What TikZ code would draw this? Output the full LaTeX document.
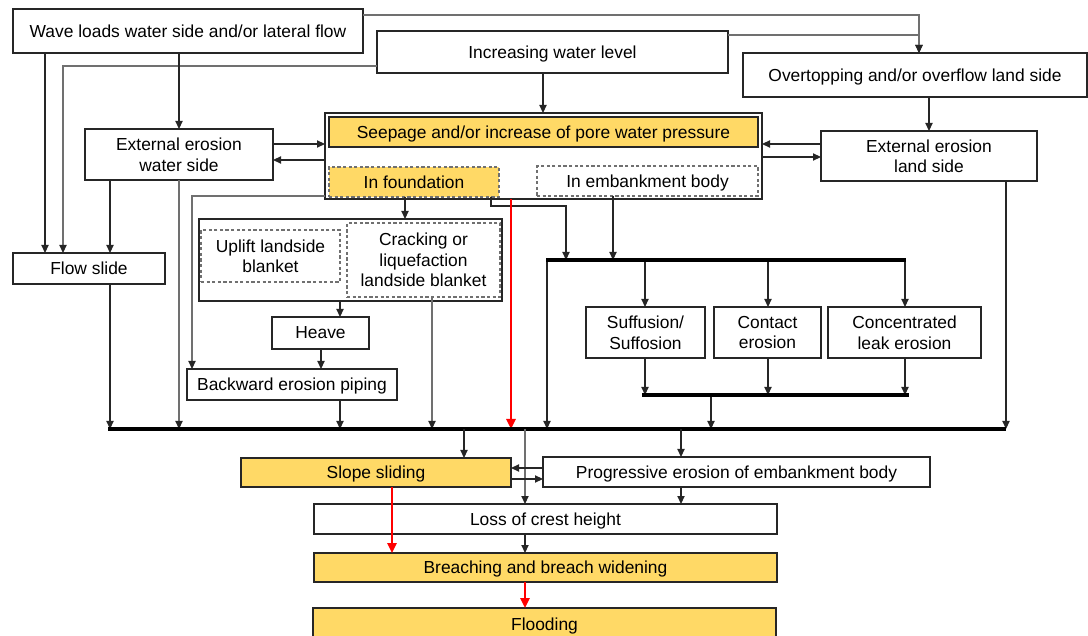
\documentclass[tikz,border=0pt]{standalone}
\usepackage{fontspec}
\setmainfont{Liberation Sans}
\usetikzlibrary{arrows.meta}
\definecolor{gold}{HTML}{FFD966}
\definecolor{ln}{HTML}{262626}
\definecolor{gr}{HTML}{707070}
\newcommand\fnt{\fontsize{8.7}{10.2}\selectfont}
\newcommand\mkbox[7]{\node[#1, minimum width={(#5-#3)*0.5pt}, minimum height={(#6-#4)*0.5pt}] (#2) at ({(#3+#5)/2},{(#4+#6)/2}) {#7};}
\begin{document}
\begin{tikzpicture}[x=0.5pt,y=-0.5pt,
  box/.style={draw=ln, line width=0.6pt, fill=white, inner sep=0pt, outer sep=0pt, align=center, text=black, font=\fnt, text depth=0pt},
  ybox/.style={box, fill=gold},
  dbox/.style={box, draw=gr, dash pattern=on 1.6pt off 1.2pt},
  ydbox/.style={dbox, fill=gold},
  arr/.style={draw=ln, line width=0.6pt, -{Triangle[length=4pt,width=3.6pt,color=ln]}},
  garr/.style={arr, draw=gr},
  redarr/.style={draw=red, line width=1.2pt, -{Triangle[length=5pt,width=4.5pt]}},
  bus/.style={draw=black, line width=1.6pt}]
\useasboundingbox (0,0) rectangle (1088,636);
% boxes
\mkbox{box}{wave}{13}{9}{363}{53}{Wave loads water side and/or lateral flow}
\mkbox{box}{incr}{377}{31}{728}{73}{Increasing water level}
\mkbox{box}{over}{743}{53}{1087}{97}{Overtopping and/or overflow land side}
\mkbox{box}{extw}{85}{129}{273}{180}{External erosion\\water side}
\mkbox{box}{extl}{821}{131}{1037}{181}{External erosion\\land side}
\mkbox{box}{seepc}{325}{113}{762}{199}{}
\mkbox{ybox}{seep}{329}{117}{758}{147}{Seepage and/or increase of pore water pressure}
\mkbox{ydbox}{found}{329}{167}{499}{197}{In foundation}
\mkbox{dbox}{emb}{537}{166}{758}{196}{In embankment body}
\mkbox{box}{blk}{199}{219}{502}{301}{}
\mkbox{dbox}{upl}{201}{230}{340}{282}{Uplift landside\\blanket}
\mkbox{dbox}{crk}{347}{223}{500}{297}{Cracking or\\liquefaction\\landside blanket}
\mkbox{box}{flow}{13}{253}{165}{284}{Flow slide}
\mkbox{box}{heave}{272}{317}{369}{349}{Heave}
\mkbox{box}{bep}{187}{369}{397}{400}{Backward erosion piping}
\mkbox{box}{suff}{586}{307}{705}{358}{Suffusion/\\Suffosion}
\mkbox{box}{cont}{714}{307}{821}{358}{Contact\\erosion}
\mkbox{box}{conc}{828}{307}{981}{358}{Concentrated\\leak erosion}
\mkbox{ybox}{slope}{241}{458}{511}{487}{Slope sliding}
\mkbox{box}{prog}{543}{457}{930}{487}{Progressive erosion of embankment body}
\mkbox{box}{loss}{314}{504}{777}{534}{Loss of crest height}
\mkbox{ybox}{breach}{314}{553}{777}{582}{Breaching and breach widening}
\mkbox{ybox}{flood}{313}{608}{776}{640}{Flooding}
% bus coordinates
\coordinate (busL) at (108,429); \coordinate (busR) at (1006,429);
\coordinate (ebL) at (546,260); \coordinate (ebR) at (906,260);
\coordinate (lbL) at (642,395); \coordinate (lbR) at (909,395);
% top connectors
\draw[garr] (wave.east |- 0,15) -| (over.north -| 919,0);
\draw[garr] (incr.east |- 0,35) -| (over.north -| 919,0);
\draw[garr] (incr.west |- 0,66) -| (flow.north -| 63,0);
\draw[arr] (wave.south -| 45,0) -- (flow.north -| 45,0);
\draw[arr] (wave.south -| 179,0) -- (extw.north -| 179,0);
\draw[arr] (extw.south -| 110,0) -- (flow.north -| 110,0);
\draw[garr] (extw.south -| 179,0) -- (busL -| 179,0);
\draw[arr] (incr.south -| 543,0) -- (seepc.north -| 543,0);
\draw[arr] (extw.east |- 0,144) -- (seepc.west |- 0,144);
\draw[arr] (seepc.west |- 0,160) -- (extw.east |- 0,160);
\draw[arr] (extl.west |- 0,144) -- (seepc.east |- 0,144);
\draw[arr] (seepc.east |- 0,157) -- (extl.west |- 0,157);
\draw[arr] (over.south -| 929,0) -- (extl.north -| 929,0);
\draw[arr] (extl.south -| 1006,0) -- (busR);
\draw[garr] (seepc.west |- 0,196) -| (bep.north -| 192,0);
\draw[arr] (found.south -| 405,0) -- (blk.north -| 405,0);
\draw[arr] (found.south -| 491,0) -- (491,206) -| (ebL -| 566,0);
\draw[arr] (emb.south -| 613,0) -- (ebL -| 613,0);
\draw[arr] (blk.south -| 340,0) -- (heave.north -| 340,0);
\draw[arr] (heave.south -| 321,0) -- (bep.north -| 321,0);
\draw[arr] (bep.south -| 340,0) -- (busL -| 340,0);
\draw[garr] (crk.south -| 432,0) -- (busL -| 432,0);
\draw[arr] (flow.south -| 110,0) -- (busL -| 110,0);
\draw[arr] (ebL -| 547,0) -- (busL -| 547,0);
\foreach \n/\xx in {suff/645,cont/768,conc/905}{
  \draw[arr] (ebL -| \xx,0) -- (\n.north -| \xx,0);
  \draw[arr] (\n.south -| \xx,0) -- (lbL -| \xx,0);
}
\draw[arr] (lbL -| 711,0) -- (busL -| 711,0);
\draw[redarr] (seepc.south -| 511,0) -- (busL -| 511,0);
% buses
\draw[bus] (busL) -- (busR);
\draw[bus] (ebL) -- (ebR);
\draw[bus] (lbL) -- (lbR);
% bottom connectors
\draw[arr] (busL -| 464,0) -- (slope.north -| 464,0);
\draw[arr] (busL -| 681,0) -- (prog.north -| 681,0);
\draw[garr] (busL -| 525,0) -- (loss.north -| 525,0);
\draw[arr] (prog.west |- 0,468) -- (slope.east |- 0,468);
\draw[arr] (slope.east |- 0,479) -- (prog.west |- 0,479);
\draw[arr] (prog.south -| 681,0) -- (loss.north -| 681,0);
\draw[redarr] (slope.south -| 392,0) -- (breach.north -| 392,0);
\draw[arr] (loss.south -| 525,0) -- (breach.north -| 525,0);
\draw[redarr] (breach.south -| 525,0) -- (flood.north -| 525,0);
\end{tikzpicture}
\end{document}
